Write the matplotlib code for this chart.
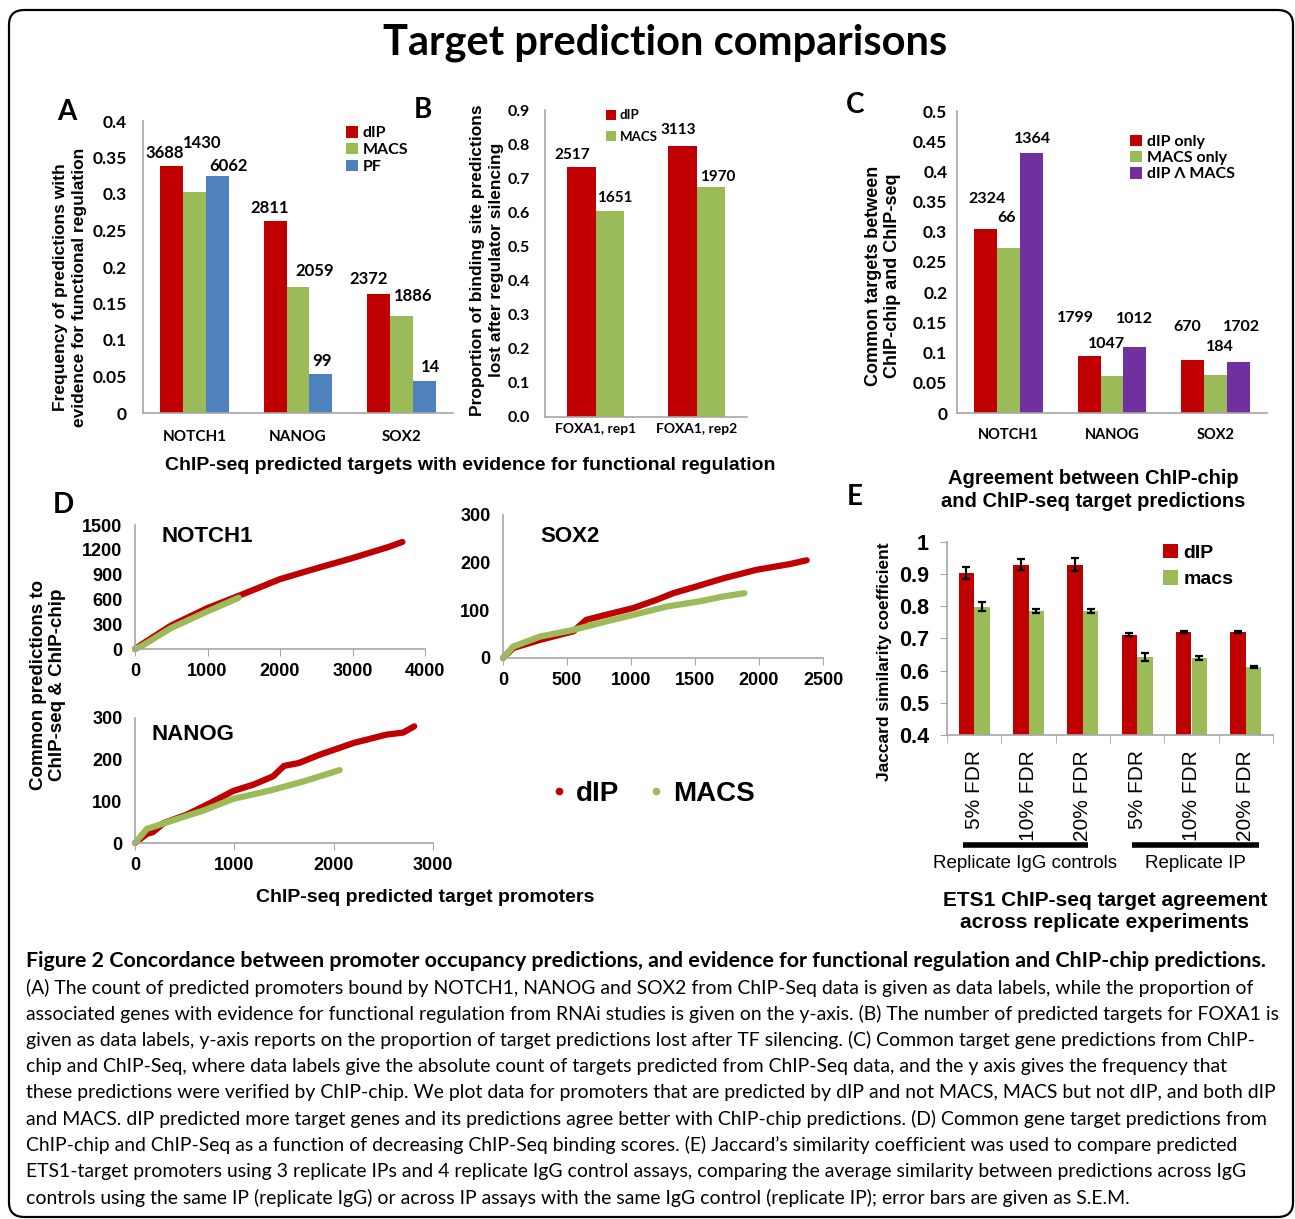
import numpy as np
import matplotlib
matplotlib.use("Agg")
import matplotlib.pyplot as plt
from matplotlib.lines import Line2D
from matplotlib.patches import FancyBboxPatch, Patch
from matplotlib.transforms import blended_transform_factory

W, H = 1295, 1219

RED = "#C00000"
GREEN = "#9BBB59"
BLUE = "#4F81BD"
PURPLE = "#7030A0"
AXIS = "#A6A6A6"
ARIAL = "Liberation Sans"
CALIBRI = "Lato"

# ---- panel A: frequency with evidence for functional regulation ----
genes = ["NOTCH1", "NANOG", "SOX2"]
a_dip = [0.338, 0.263, 0.163]
a_macs = [0.303, 0.173, 0.133]
a_pf = [0.324, 0.053, 0.044]
a_dip_n = [3688, 2811, 2372]
a_macs_n = [1430, 2059, 1886]
a_pf_n = [6062, 99, 14]

# ---- panel B: FOXA1 silencing ----
b_cats = ["FOXA1, rep1", "FOXA1, rep2"]
b_dip = [0.734, 0.793]
b_macs = [0.604, 0.675]
b_dip_n = [2517, 3113]
b_macs_n = [1651, 1970]

# ---- panel C: agreement with ChIP-chip ----
c_dip_only = [0.304, 0.094, 0.087]
c_macs_only = [0.273, 0.062, 0.063]
c_both = [0.431, 0.109, 0.085]
c_dip_only_n = [2324, 1799, 670]
c_macs_only_n = [66, 1047, 184]
c_both_n = [1364, 1012, 1702]

# ---- panel D: cumulative common predictions ----
notch_dip_x = [0, 100, 500, 1000, 1450, 2000, 2500, 3000, 3500, 3688]
notch_dip_y = [0, 60, 285, 495, 650, 845, 975, 1100, 1235, 1295]
notch_macs_x = [0, 100, 500, 1000, 1430]
notch_macs_y = [0, 40, 255, 455, 620]
nanog_dip_x = [0, 120, 180, 290, 520, 750, 990, 1190, 1390, 1500, 1650, 1860, 2200, 2530, 2700, 2811]
nanog_dip_y = [0, 22, 26, 48, 68, 95, 125, 140, 160, 185, 192, 212, 240, 260, 265, 280]
nanog_macs_x = [0, 120, 200, 350, 690, 990, 1360, 1700, 2060]
nanog_macs_y = [0, 34, 40, 52, 78, 106, 126, 148, 175]
sox2_dip_x = [0, 80, 290, 550, 650, 810, 1020, 1200, 1330, 1510, 1720, 1980, 2240, 2372]
sox2_dip_y = [0, 21, 38, 56, 80, 91, 105, 122, 136, 150, 167, 185, 197, 205]
sox2_macs_x = [0, 80, 290, 550, 810, 1070, 1280, 1540, 1720, 1886]
sox2_macs_y = [0, 24, 45, 59, 77, 94, 108, 119, 129, 136]

# ---- panel E: Jaccard similarity across replicates ----
e_cats = ["5% FDR", "10% FDR", "20% FDR", "5% FDR", "10% FDR", "20% FDR"]
e_dip = [0.903, 0.930, 0.930, 0.712, 0.720, 0.720]
e_dip_err = [0.019, 0.016, 0.019, 0.004, 0.004, 0.004]
e_macs = [0.798, 0.786, 0.786, 0.643, 0.640, 0.610]
e_macs_err = [0.014, 0.007, 0.007, 0.013, 0.006, 0.003]

caption = [
    "Figure 2 Concordance between promoter occupancy predictions, and evidence for functional regulation and ChIP-chip predictions.",
    "(A) The count of predicted promoters bound by NOTCH1, NANOG and SOX2 from ChIP-Seq data is given as data labels, while the proportion of",
    "associated genes with evidence for functional regulation from RNAi studies is given on the y-axis. (B) The number of predicted targets for FOXA1 is",
    "given as data labels, y-axis reports on the proportion of target predictions lost after TF silencing. (C) Common target gene predictions from ChIP-",
    "chip and ChIP-Seq, where data labels give the absolute count of targets predicted from ChIP-Seq data, and the y axis gives the frequency that",
    "these predictions were verified by ChIP-chip. We plot data for promoters that are predicted by dIP and not MACS, MACS but not dIP, and both dIP",
    "and MACS. dIP predicted more target genes and its predictions agree better with ChIP-chip predictions. (D) Common gene target predictions from",
    "ChIP-chip and ChIP-Seq as a function of decreasing ChIP-Seq binding scores. (E) Jaccard\u2019s similarity coefficient was used to compare predicted",
    "ETS1-target promoters using 3 replicate IPs and 4 replicate IgG control assays, comparing the average similarity between predictions across IgG",
    "controls using the same IP (replicate IgG) or across IP assays with the same IgG control (replicate IP); error bars are given as S.E.M.",
]


def px_axes(fig, left, top, right, bottom):
    return fig.add_axes([left / W, 1 - bottom / H, (right - left) / W, (bottom - top) / H])


def ftext(fig, x, y, s, **kw):
    kw.setdefault("ha", "center")
    kw.setdefault("va", "center")
    return fig.text(x / W, 1 - y / H, s, **kw)


def excel_axes(ax):
    for side in ("top", "right"):
        ax.spines[side].set_visible(False)
    for side in ("left", "bottom"):
        ax.spines[side].set_color(AXIS)
        ax.spines[side].set_linewidth(1.2)
    ax.tick_params(length=0)


def bar_labels(ax, xs, vals, counts, shifts, size):
    # shifts are label-centre offsets from the bar top, in pixels
    for x, v, n, (dx, dy) in zip(xs, vals, counts, shifts):
        ax.annotate(str(n), (x, v), xytext=(dx * 0.72, dy * 0.72),
                    textcoords="offset points", ha="center", va="center",
                    fontsize=size, fontweight="bold", family=CALIBRI)


def square_legend(fig, ax, labels, colors, x, y, size, family, spacing):
    handles = [Patch(facecolor=c, edgecolor="none") for c in colors]
    ax.legend(handles, labels, loc="center left",
              bbox_to_anchor=(x / W, 1 - y / H), bbox_transform=fig.transFigure,
              frameon=False, handlelength=0.75, handleheight=0.75,
              handletextpad=0.3, labelspacing=spacing, borderpad=0,
              borderaxespad=0, prop={"family": family, "weight": "bold", "size": size})


def fit_size(fig, text, width, weight):
    renderer = fig.canvas.get_renderer()
    probe = fig.text(0, 0, text, fontsize=10, family=CALIBRI, fontweight=weight)
    wpx = probe.get_window_extent(renderer).width
    probe.remove()
    return 10 * width / wpx


fig = plt.figure(figsize=(W / 100, H / 100), dpi=100)

# rounded frame
fig.add_artist(FancyBboxPatch((9 / W, 1 - 1217 / H), 1284 / W, 1207 / H,
                              boxstyle="round,pad=0,rounding_size=0.012",
                              transform=fig.transFigure, fill=False,
                              ec="black", lw=1.6))

ftext(fig, 665, 43, "Target prediction comparisons", fontsize=30,
      fontweight="bold", family=CALIBRI)

# ---------------- A ----------------
axA = px_axes(fig, 143, 121, 453, 413)
excel_axes(axA)
xg = np.arange(len(genes))
w = 0.222
axA.bar(xg - w, a_dip, w, color=RED)
axA.bar(xg, a_macs, w, color=GREEN)
axA.bar(xg + w, a_pf, w, color=BLUE)
axA.set_xlim(-0.5, 2.5)
axA.set_ylim(0, 0.4)
a_ticks = np.arange(0, 0.401, 0.05)
axA.set_yticks(a_ticks)
axA.set_yticklabels([format(round(t, 2), "g") for t in a_ticks])
axA.set_xticks(xg)
axA.set_xticklabels(genes)
axA.tick_params(axis="y", pad=11.5)
axA.tick_params(axis="x", pad=12)
for lab in axA.get_yticklabels():
    lab.set(fontsize=12.5, fontweight="bold", family=CALIBRI)
for lab in axA.get_xticklabels():
    lab.set(fontsize=11, fontweight="bold", family=CALIBRI)
bar_labels(axA, xg - w, a_dip, a_dip_n, [(-6.7, 13), (-5, 12.7), (-10, 14.7)], 12)
bar_labels(axA, xg, a_macs, a_macs_n, [(7, 48.5), (17, 15.7), (12, 20)], 12)
bar_labels(axA, xg + w, a_pf, a_pf_n, [(11.3, 10.5), (0.7, 13), (6, 14)], 12)
square_legend(fig, axA, ["dIP", "MACS", "PF"], [RED, GREEN, BLUE], 346, 150, 11.5, CALIBRI, 0.15)
ftext(fig, 70, 287, "Frequency of predictions with\nevidence for functional regulation",
      rotation=90, fontsize=12.5, fontweight="bold", family=ARIAL, linespacing=1.4)
ftext(fig, 67, 112, "A", fontsize=20, fontweight="bold", family=CALIBRI)

# ---------------- B ----------------
axB = px_axes(fig, 545, 110, 747, 417)
excel_axes(axB)
xb = np.arange(len(b_cats))
wb = 0.28
axB.bar(xb - wb / 2, b_dip, wb, color=RED)
axB.bar(xb + wb / 2, b_macs, wb, color=GREEN)
axB.set_xlim(-0.5, 1.5)
axB.set_ylim(0, 0.9)
b_ticks = np.arange(0, 0.901, 0.1)
axB.set_yticks(b_ticks)
axB.set_yticklabels([f"{t:.1f}" for t in b_ticks])
axB.set_xticks(xb)
axB.set_xticklabels(b_cats)
axB.tick_params(axis="y", pad=11)
axB.tick_params(axis="x", pad=4)
for lab in axB.get_yticklabels():
    lab.set(fontsize=11.5, fontweight="bold", family=CALIBRI)
for lab in axB.get_xticklabels():
    lab.set(fontsize=10, fontweight="bold", family=CALIBRI)
bar_labels(axB, xb - wb / 2, b_dip, b_dip_n, [(-9.4, 11.7), (-4.4, 16.6)], 11)
bar_labels(axB, xb + wb / 2, b_macs, b_macs_n, [(5.4, 12.7), (7.4, 10)], 11)
square_legend(fig, axB, ["dIP", "MACS"], [RED, GREEN], 606, 126, 9.5, CALIBRI, 0.7)
ftext(fig, 487, 260, "Proportion of binding site predictions\nlost after regulator silencing",
      rotation=90, fontsize=12.5, fontweight="bold", family=ARIAL, linespacing=1.3)
ftext(fig, 423, 110, "B", fontsize=20, fontweight="bold", family=CALIBRI)

ftext(fig, 470, 466, "ChIP-seq predicted targets with evidence for functional regulation",
      fontsize=14, fontweight="bold", family=ARIAL)

# ---------------- C ----------------
axC = px_axes(fig, 957, 111, 1267, 413)
excel_axes(axC)
axC.bar(xg - w, c_dip_only, w, color=RED)
axC.bar(xg, c_macs_only, w, color=GREEN)
axC.bar(xg + w, c_both, w, color=PURPLE)
axC.set_xlim(-0.5, 2.5)
axC.set_ylim(0, 0.5)
c_ticks = np.arange(0, 0.501, 0.05)
axC.set_yticks(c_ticks)
axC.set_yticklabels([format(round(t, 2), "g") for t in c_ticks])
axC.set_xticks(xg)
axC.set_xticklabels(genes)
axC.tick_params(axis="y", pad=7)
axC.tick_params(axis="x", pad=11)
for lab in axC.get_yticklabels():
    lab.set(fontsize=12.5, fontweight="bold", family=CALIBRI)
for lab in axC.get_xticklabels():
    lab.set(fontsize=10.5, fontweight="bold", family=CALIBRI)
bar_labels(axC, xg - w, c_dip_only, c_dip_only_n, [(1.3, 30), (-14, 38.5), (-5.3, 33.8)], 11.5)
bar_labels(axC, xg, c_macs_only, c_macs_only_n, [(-1.7, 30.4), (-5, 31.3), (4.7, 28.3)], 11.5)
bar_labels(axC, xg + w, c_both, c_both_n, [(1.3, 13.4), (0, 28.5), (3.7, 34.4)], 11.5)
square_legend(fig, axC, ["dIP only", "MACS only", "dIP \u039b MACS"],
              [RED, GREEN, PURPLE], 1130, 158, 11.5, CALIBRI, 0.1)
ftext(fig, 883, 276, "Common targets between\nChIP-chip and ChIP-seq",
      rotation=90, fontsize=13, fontweight="bold", family=ARIAL, linespacing=1.1)
ftext(fig, 855, 105, "C", fontsize=20, fontweight="bold", family=CALIBRI)
ftext(fig, 1093, 490, "Agreement between ChIP-chip\nand ChIP-seq target predictions",
      fontsize=14.5, fontweight="bold", family=ARIAL, linespacing=1.25)

# ---------------- D ----------------
def curve_axes(ax, xmax, xstep, ymax, ystep):
    excel_axes(ax)
    ax.set_xlim(0, xmax)
    ax.set_ylim(0, ymax)
    ax.set_xticks(np.arange(0, xmax + 1, xstep))
    ax.set_yticks(np.arange(0, ymax + 1, ystep))
    ax.tick_params(axis="x", length=5, color=AXIS, direction="out", pad=5)
    ax.tick_params(axis="y", length=0, pad=9)
    for lab in ax.get_xticklabels() + ax.get_yticklabels():
        lab.set(fontsize=13, fontweight="bold", family=ARIAL)


def curves(ax, dx, dy, mx, my):
    ax.plot(dx, dy, color=RED, lw=4.5, solid_capstyle="round", clip_on=False)
    ax.plot(mx, my, color=GREEN, lw=4.5, solid_capstyle="round", clip_on=False)


axD1 = px_axes(fig, 135, 525, 425, 649)
curve_axes(axD1, 4000, 1000, 1500, 300)
curves(axD1, notch_dip_x, notch_dip_y, notch_macs_x, notch_macs_y)
ftext(fig, 207, 537, "NOTCH1", fontsize=16, fontweight="bold", family=ARIAL)

axD2 = px_axes(fig, 135, 718, 433, 843)
curve_axes(axD2, 3000, 1000, 300, 100)
curves(axD2, nanog_dip_x, nanog_dip_y, nanog_macs_x, nanog_macs_y)
ftext(fig, 193, 735, "NANOG", fontsize=16, fontweight="bold", family=ARIAL)

axD3 = px_axes(fig, 503, 515, 823, 658)
curve_axes(axD3, 2500, 500, 300, 100)
curves(axD3, sox2_dip_x, sox2_dip_y, sox2_macs_x, sox2_macs_y)
ftext(fig, 570, 537, "SOX2", fontsize=16, fontweight="bold", family=ARIAL)

d_handles = [Line2D([], [], ls="", marker="o", ms=4.5, color=RED),
             Line2D([], [], ls="", marker="o", ms=4.5, color=GREEN)]
axD3.legend(d_handles, ["dIP", "MACS"], loc="center left", ncol=2,
            bbox_to_anchor=(552 / W, 1 - 794 / H), bbox_transform=fig.transFigure,
            frameon=False, handlelength=0.5, handletextpad=0.35, columnspacing=1.1,
            borderpad=0, borderaxespad=0,
            prop={"family": ARIAL, "weight": "bold", "size": 20})
ftext(fig, 48, 685, "Common predictions to\nChIP-seq & ChIP-chip", rotation=90,
      fontsize=13.5, fontweight="bold", family=ARIAL, linespacing=1.1)
ftext(fig, 425, 897, "ChIP-seq predicted target promoters", fontsize=14,
      fontweight="bold", family=ARIAL)
ftext(fig, 63, 505, "D", fontsize=20, fontweight="bold", family=CALIBRI)

# ---------------- E ----------------
axE = px_axes(fig, 947, 542, 1273, 735)
excel_axes(axE)
xe = np.arange(len(e_cats))
we = 0.285
err_kw = {"elinewidth": 1.6, "capthick": 1.6, "ecolor": "black"}
axE.bar(xe - we / 2, e_dip, we, color=RED, yerr=e_dip_err, capsize=3, error_kw=err_kw)
axE.bar(xe + we / 2, e_macs, we, color=GREEN, yerr=e_macs_err, capsize=3, error_kw=err_kw)
axE.set_xlim(-0.5, 5.5)
axE.set_ylim(0.4, 1.0)
e_ticks = np.arange(0.4, 1.001, 0.1)
axE.set_yticks(e_ticks)
axE.set_yticklabels([format(round(t, 1), "g") for t in e_ticks])
axE.set_xticks(xe)
axE.set_xticklabels(e_cats, rotation=90)
axE.set_xticks(np.arange(-0.5, 6, 1), minor=True)
axE.tick_params(axis="x", which="major", length=0, pad=11)
axE.tick_params(axis="x", which="minor", length=6, color=AXIS, direction="out")
axE.tick_params(axis="y", length=5, color=AXIS, direction="out", pad=8)
for lab in axE.get_yticklabels():
    lab.set(fontsize=15.5, fontweight="bold", family=ARIAL)
for lab in axE.get_xticklabels():
    lab.set(fontsize=15, family=ARIAL)
square_legend(fig, axE, ["dIP", "macs"], [RED, GREEN], 1163, 566, 14, ARIAL, 0.45)

brk = blended_transform_factory(axE.transData, fig.transFigure)
for x0, x1 in [(-0.2, 2.1), (2.9, 5.25)]:
    fig.add_artist(Line2D([x0, x1], [1 - 845 / H] * 2, transform=brk,
                          color="black", lw=4, solid_capstyle="butt"))
ftext(fig, 1025, 864, "Replicate IgG controls", fontsize=13.5, family=ARIAL)
ftext(fig, 1195, 864, "Replicate IP", fontsize=13.5, family=ARIAL)
ftext(fig, 885, 662, "Jaccard similarity coefficient", rotation=90, fontsize=12.5,
      fontweight="bold", family=ARIAL)
ftext(fig, 1105, 912, "ETS1 ChIP-seq target agreement\nacross replicate experiments",
      fontsize=15, fontweight="bold", family=ARIAL, linespacing=1.2)
ftext(fig, 855, 497, "E", fontsize=20, fontweight="bold", family=CALIBRI)

# ---------------- caption ----------------
reg_size = min(fit_size(fig, line, 1255, "normal") for line in caption[1:])
bold_size = min(fit_size(fig, caption[0], 1252, "bold"), reg_size * 1.1)
ftext(fig, 26, 961, caption[0], ha="left", fontsize=bold_size,
      fontweight="bold", family=CALIBRI)
for i, line in enumerate(caption[1:]):
    ftext(fig, 26, 988 + 26.2 * i, line, ha="left", fontsize=reg_size, family=CALIBRI)

fig.savefig("out.png", dpi=100)
